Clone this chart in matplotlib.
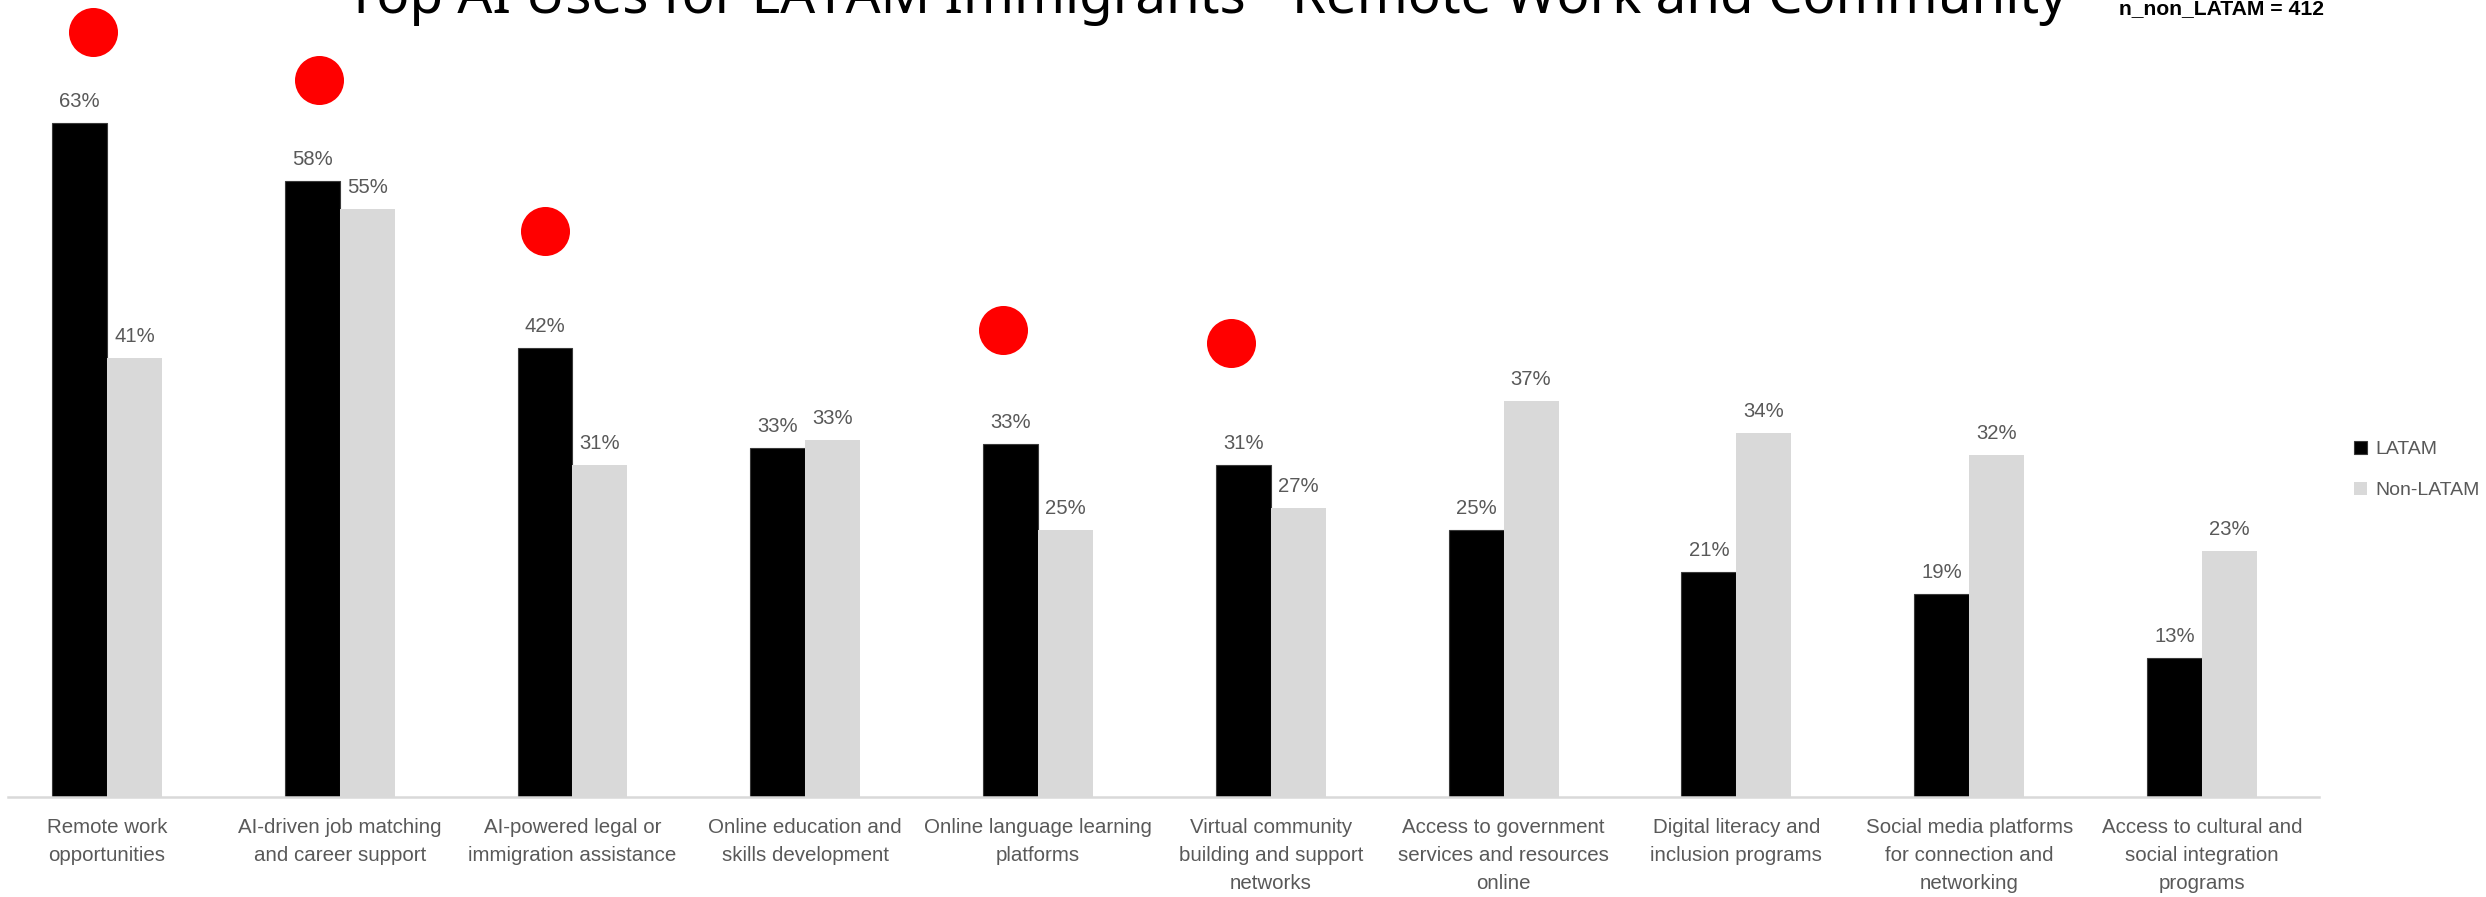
import matplotlib
matplotlib.use("Agg")
import matplotlib.pyplot as plt
import numpy as np
from matplotlib import font_manager
from matplotlib.patches import Patch

# ---------------- data ----------------
categories = [
    "Remote work\nopportunities",
    "AI-driven job matching\nand career support",
    "AI-powered legal or\nimmigration assistance",
    "Online education and\nskills development",
    "Online language learning\nplatforms",
    "Virtual community\nbuilding and support\nnetworks",
    "Access to government\nservices and resources\nonline",
    "Digital literacy and\ninclusion programs",
    "Social media platforms\nfor connection and\nnetworking",
    "Access to cultural and\nsocial integration\nprograms",
]
latam = [63, 57.6, 42, 32.6, 33, 31, 25, 21, 19, 13]
non_latam = [41, 55, 31, 33.4, 25, 27, 37, 34, 32, 23]
series_names = ["LATAM", "Non-LATAM"]
title_text = "Top AI Uses for LATAM Immigrants - Remote Work and Community"
note_text = "n_non_LATAM = 412"
# red highlight markers (category position, height in %)
dot_x = [-0.06, 0.91, 1.88, 3.85, 4.83]
dot_y = [71.5, 67.0, 52.9, 43.6, 42.4]

# ---------------- fonts ----------------
names = {f.name for f in font_manager.fontManager.ttflist}
cat_font = "Liberation Sans Narrow" if "Liberation Sans Narrow" in names else "Liberation Sans"
cat_size = 17.5 if cat_font == "Liberation Sans Narrow" else 14.8

W, H, DPI = 2486, 897, 100
fig = plt.figure(figsize=(W / DPI, H / DPI), dpi=DPI)
fig.patch.set_facecolor("white")

ax_left, ax_right, ax_bottom, ax_top = 8, 2319, 797, 0
ax = fig.add_axes([ax_left / W, (H - ax_bottom) / H, (ax_right - ax_left) / W, (ax_bottom - ax_top) / H])

x = np.arange(len(categories))
bw = 0.236
b1 = ax.bar(x - bw / 2, latam, bw, color="black", edgecolor="#3a3a3a", linewidth=0.8, label=series_names[0], zorder=2)
b2 = ax.bar(x + bw / 2, non_latam, bw, color="#D9D9D9", linewidth=0, label=series_names[1], zorder=2)

ax.set_xlim(-0.425, 9.503)
ax.set_ylim(0, 797 / 10.7)

for bars, vals in ((b1, latam), (b2, non_latam)):
    for rect, v in zip(bars, vals):
        ax.annotate(f"{v:.0f}%", (rect.get_x() + rect.get_width() / 2, rect.get_height()),
                    xytext=(0, 8.5), textcoords="offset points", ha="center", va="bottom",
                    fontsize=14.6, color="#595959", family="Liberation Sans")

ax.scatter(dot_x, dot_y, s=1246, color="#FF0000", linewidths=0, zorder=5, clip_on=False)

for s in ("top", "right", "left"):
    ax.spines[s].set_visible(False)
ax.spines["bottom"].set_color("#D9D9D9")
ax.spines["bottom"].set_linewidth(1.8)
ax.set_yticks([])
ax.set_xticks(x)
ax.set_xticklabels(categories, fontsize=cat_size, color="#595959", family=cat_font, linespacing=1.62)
ax.tick_params(axis="x", length=0, pad=15)
ax.patch.set_alpha(0)

leg = ax.legend(handles=[Patch(facecolor="black", edgecolor="#3a3a3a", linewidth=0.8),
                         Patch(facecolor="#D9D9D9")],
                labels=series_names, loc="upper left",
                bbox_to_anchor=(2354 / W, (H - 441) / H), bbox_transform=fig.transFigure,
                frameon=False, borderpad=0, borderaxespad=0,
                handlelength=0.68, handleheight=0.68, handletextpad=0.42,
                labelspacing=1.2, prop={"family": "Liberation Sans", "size": 14})
for t in leg.get_texts():
    t.set_color("#595959")

title = fig.text(1206 / W, 1 - 13 / H, title_text, ha="center", va="baseline",
                 fontsize=38, family="Noto Sans", color="black")
note = fig.text(2119 / W, 1 - 14 / H, note_text, ha="left", va="baseline",
                fontsize=14, family="Liberation Sans", fontweight="bold", color="black")

fig.canvas.draw()
r = fig.canvas.get_renderer()
for t, target in ((title, 1723), (note, 206)):
    w = t.get_window_extent(r).width
    t.set_fontsize(t.get_fontsize() * target / w)

fig.savefig("out.png", dpi=DPI, facecolor="white")
